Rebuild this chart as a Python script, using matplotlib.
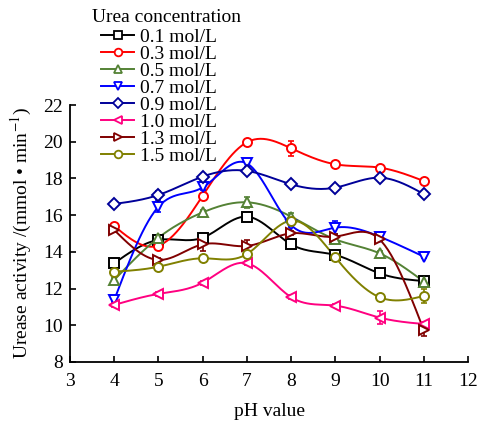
import numpy as np
import matplotlib
matplotlib.use("Agg")
import matplotlib.pyplot as plt
from matplotlib.lines import Line2D

plt.rcParams['font.family'] = ['Liberation Serif', 'DejaVu Serif']
plt.rcParams['mathtext.fontset'] = 'stix'

ph = [4, 5, 6, 7, 8, 9, 10, 11]
labels = ["0.1 mol/L", "0.3 mol/L", "0.5 mol/L", "0.7 mol/L",
          "0.9 mol/L", "1.0 mol/L", "1.3 mol/L", "1.5 mol/L"]

c01 = [13.38, 14.65, 14.77, 15.92, 14.41, 13.83, 12.83, 12.41]
c03 = [15.41, 14.34, 17.06, 19.97, 19.64, 18.77, 18.59, 17.86]
c05 = [12.47, 14.77, 16.15, 16.70, 15.92, 14.68, 13.92, 12.38]
c07 = [11.38, 16.46, 17.51, 18.82, 15.46, 15.32, 14.83, 13.74]
c09 = [16.61, 17.10, 18.10, 18.41, 17.68, 17.50, 18.04, 17.15]
c10 = [11.11, 11.71, 12.32, 13.38, 11.53, 11.07, 10.42, 10.07]
c13 = [15.19, 13.56, 14.41, 14.32, 15.01, 14.83, 14.68, 9.74]
c15 = [12.92, 13.19, 13.65, 13.88, 15.70, 13.70, 11.53, 11.60]

e01 = [0.10, 0.10, 0.10, 0.15, 0.10, 0.10, 0.10, 0.10]
e03 = [0.10, 0.15, 0.10, 0.10, 0.40, 0.10, 0.10, 0.10]
e05 = [0.10, 0.10, 0.15, 0.30, 0.20, 0.10, 0.10, 0.10]
e07 = [0.10, 0.30, 0.15, 0.20, 0.10, 0.35, 0.10, 0.10]
e09 = [0.15, 0.20, 0.15, 0.15, 0.10, 0.10, 0.10, 0.10]
e10 = [0.10, 0.10, 0.10, 0.10, 0.10, 0.10, 0.35, 0.10]
e13 = [0.10, 0.10, 0.35, 0.35, 0.10, 0.15, 0.10, 0.35]
e15 = [0.10, 0.10, 0.10, 0.10, 0.15, 0.10, 0.10, 0.40]

series = [c01, c03, c05, c07, c09, c10, c13, c15]
errs = [e01, e03, e05, e07, e09, e10, e13, e15]
colors = ['#000000', '#FF0000', '#548235', '#0000FF', '#000099',
          '#FF0080', '#800000', '#808000']
markers = ['s', 'o', '^', 'v', 'D', '<', '>', 'o']


def natural_spline(x, y, n=200):
    x = np.asarray(x, float)
    y = np.asarray(y, float)
    m = len(x)
    h = np.diff(x)
    A = np.zeros((m, m))
    b = np.zeros(m)
    A[0, 0] = 1
    A[-1, -1] = 1
    for i in range(1, m - 1):
        A[i, i - 1] = h[i - 1]
        A[i, i] = 2 * (h[i - 1] + h[i])
        A[i, i + 1] = h[i]
        b[i] = 3 * ((y[i + 1] - y[i]) / h[i] - (y[i] - y[i - 1]) / h[i - 1])
    c = np.linalg.solve(A, b)
    xs = np.linspace(x[0], x[-1], n)
    ys = np.empty_like(xs)
    for k, xv in enumerate(xs):
        i = min(np.searchsorted(x, xv, side='right') - 1, m - 2)
        dx = xv - x[i]
        bi = (y[i + 1] - y[i]) / h[i] - h[i] * (2 * c[i] + c[i + 1]) / 3
        di = (c[i + 1] - c[i]) / (3 * h[i])
        ys[k] = y[i] + bi * dx + c[i] * dx ** 2 + di * dx ** 3
    return xs, ys


W, H = 478, 421
fig = plt.figure(figsize=(W / 100, H / 100), dpi=100)
ax = fig.add_axes([70 / W, 1 - 362 / H, 398 / W, 257 / H])

handles = []
for ys, es, col, mk, lab in zip(series, errs, colors, markers, labels):
    sx, sy = natural_spline(ph, ys)
    ax.plot(sx, sy, color=col, lw=1.4, zorder=2)
    ax.errorbar(ph, ys, yerr=es, fmt='none', ecolor=col, elinewidth=1.2,
                capsize=2.5, capthick=1.2, zorder=3)
    ax.plot(ph, ys, linestyle='none', marker=mk, ms=6.5, mfc='white',
            mec=col, mew=1.4, zorder=4)
    handles.append(Line2D([], [], color=col, lw=1.4, marker=mk, ms=5.5,
                          mfc='white', mec=col, mew=1.3))

ax.set_xlim(3, 12)
ax.set_ylim(8, 22)
ax.set_xticks(range(3, 13))
ax.set_yticks(range(8, 23, 2))
ax.spines['top'].set_visible(False)
ax.spines['right'].set_visible(False)
for s in ['left', 'bottom']:
    ax.spines[s].set_linewidth(1.3)
ax.tick_params(direction='in', length=4, width=1.2, labelsize=14)
ax.tick_params(axis='x', pad=8)
ax.tick_params(axis='y', pad=5)
ax.set_xlabel('pH value', fontsize=14, labelpad=9)
ax.set_ylabel(r'Urease activity /(mmol • min$^{-1}$)', fontsize=14, labelpad=7)

fig.text(92 / W, 1 - 9 / H, 'Urea concentration', fontsize=14,
         ha='left', va='top')
leg = fig.legend(handles, labels, loc='upper left',
                 bbox_to_anchor=(101 / W, 1 - 28 / H), frameon=False, fontsize=14,
                 handlelength=1.7, handletextpad=0.3,
                 labelspacing=-0.03, borderpad=0.0, borderaxespad=0.0)

fig.savefig('out.png', dpi=100)
